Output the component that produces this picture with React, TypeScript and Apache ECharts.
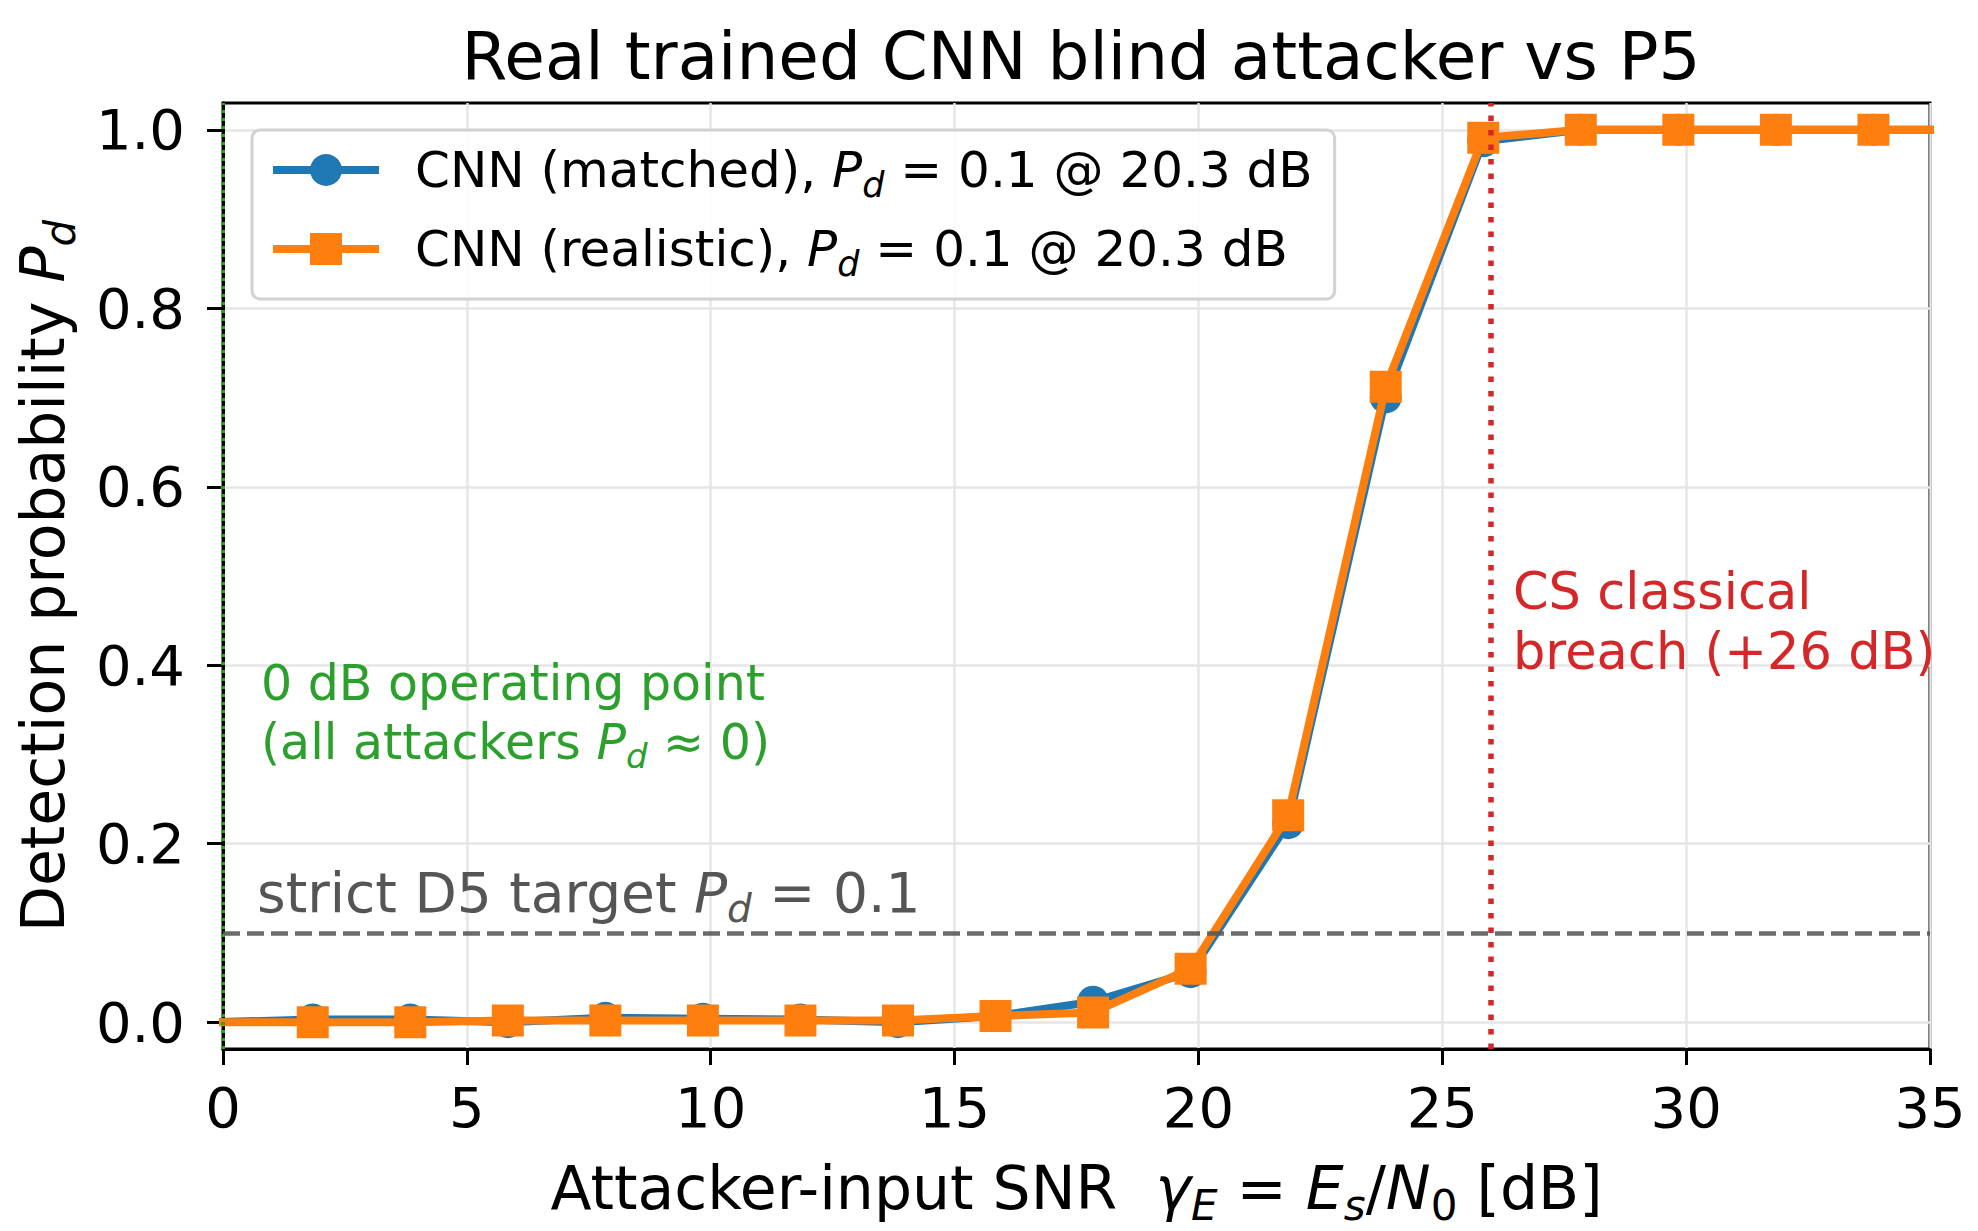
import React, { useEffect, useRef } from "react";
import * as echarts from "echarts";

const F = "DejaVu Sans";

// SNR sample points (dB)
const snr = [-0.16, 1.84, 3.84, 5.84, 7.84, 9.84, 11.84, 13.84, 15.84, 17.84, 19.84, 21.84, 23.84, 25.84, 27.84, 29.84, 31.84, 33.84, 35.84];
const pdMatched = [0.0, 0.003, 0.003, 0.0, 0.005, 0.004, 0.003, 0.0, 0.007, 0.023, 0.056, 0.223, 0.7, 0.987, 1.0, 1.0, 1.0, 1.0, 1.0];
const pdRealistic = [0.0, 0.0, 0.0, 0.002, 0.002, 0.002, 0.002, 0.002, 0.007, 0.011, 0.06, 0.232, 0.712, 0.991, 1.0, 1.0, 1.0, 1.0, 1.0];

const yTicks = [0, 0.2, 0.4, 0.6, 0.8, 1.0];
const targetPd = 0.1;
const breachSnr = 26;
const operatingSnr = 0;

const nameMatched = "CNN (matched)";
const nameRealistic = "CNN (realistic)";

function richSet(fs: number, color: string) {
  const sub = Math.round(fs * 0.7);
  const p = Math.round(fs * 0.58);
  return {
    n: { fontSize: fs, fontFamily: F, color, fill: color },
    i: { fontSize: fs, fontFamily: F, color, fill: color, fontStyle: "italic" },
    s: { fontSize: sub, fontFamily: F, color, fill: color, fontStyle: "italic", padding: [p, 0, 0, 0] },
    z: { fontSize: sub, fontFamily: F, color, fill: color, padding: [p, 0, 0, 0] },
  };
}

export default function App() {
  const ref = useRef<HTMLDivElement>(null);
  useEffect(() => {
    document.body.style.margin = "0";
    if (!ref.current) return;
    const chart = echarts.init(ref.current, null, { renderer: "svg" });

    const legendFs = 50;
    const legendRich: any = richSet(legendFs, "#000");
    legendRich.g = { fontSize: legendFs, fontFamily: F, color: "#000", padding: [0, 0, 0, 31] };

    const labelFs = 60;
    const greenFs = 49;
    const redFs = 51;
    const grayFs = 55;
    const C = 0.3;

    const option: any = {
      animation: false,
      backgroundColor: "#ffffff",
      title: {
        text: "Real trained CNN blind attacker vs P5",
        left: 1076,
        top: 18,
        textAlign: "center",
        textStyle: { fontSize: 66, fontWeight: "normal", fontFamily: F, color: "#000" },
      },
      grid: {
        left: 223,
        right: 48,
        top: 103,
        bottom: 178,
        show: true,
        borderColor: "#000",
        borderWidth: 3,
        backgroundColor: "transparent",
      },
      legend: {
        data: [nameMatched, nameRealistic],
        orient: "vertical",
        left: 252,
        top: 130,
        itemWidth: 106,
        itemHeight: 40,
        itemGap: 22,
        padding: [15, 22, 18, 17],
        backgroundColor: "rgba(255,255,255,0.85)",
        borderColor: "#d2d2d2",
        borderWidth: 3,
        borderRadius: 8,
        selectedMode: false,
        lineStyle: { width: 8 },
        formatter: (name: string) =>
          `{g|${name}, }{i|P}{s|d}{n| = 0.1 @ 20.3 dB}`,
        textStyle: { fontSize: legendFs, fontFamily: F, color: "#000", rich: legendRich },
      },
      xAxis: {
        type: "value",
        min: 0,
        max: 35,
        interval: 5,
        name: "{n|Attacker-input SNR  }{i|γ}{s|E}{n| = }{i|E}{s|s}{n|/}{i|N}{z|0}{n| [dB]}",
        nameLocation: "middle",
        nameGap: 100,
        nameTextStyle: { fontSize: labelFs, fontFamily: F, color: "#000", rich: richSet(labelFs, "#000") },
        axisLine: { show: true, onZero: false, lineStyle: { color: "#000", width: 3 } },
        axisTick: { show: true, length: 16, lineStyle: { color: "#000", width: 3 } },
        axisLabel: { fontSize: 56, fontFamily: F, color: "#000", margin: 30 },
        splitLine: { show: true, lineStyle: { color: "#e6e6e6", width: 2.5 } },
      },
      yAxis: {
        type: "value",
        min: -0.03,
        max: 1.03,
        name: "{n|Detection probability }{i|P}{s|d}",
        nameLocation: "middle",
        nameRotate: 90,
        nameGap: 142,
        nameTextStyle: { fontSize: labelFs, fontFamily: F, color: "#000", rich: richSet(labelFs, "#000") },
        axisLine: { show: true, onZero: false, lineStyle: { color: "#000", width: 3 } },
        axisTick: { show: true, length: 16, customValues: yTicks, lineStyle: { color: "#000", width: 3 } },
        axisLabel: {
          fontSize: 56,
          fontFamily: F,
          color: "#000",
          margin: 38,
          customValues: yTicks,
          formatter: (v: number) => v.toFixed(1),
        },
        splitLine: { show: true, lineStyle: { color: "#e6e6e6", width: 2.5 } },
      },
      series: [
        {
          name: "refs-low",
          type: "line",
          data: [],
          z: 1,
          silent: true,
          markLine: {
            silent: true,
            symbol: ["none", "none"],
            label: { show: false },
            data: [
              { yAxis: targetPd, lineStyle: { color: "#5a5a5a", width: 4.5, type: [17, 7], opacity: 0.9 } },
              { xAxis: operatingSnr, lineStyle: { color: "#2ca02c", width: 4, type: [3, 5], opacity: 1 } },
            ],
          },
        },
        {
          name: nameMatched,
          type: "line",
          data: snr.map((x, i) => [x, pdMatched[i]]),
          symbol: "circle",
          symbolSize: 32,
          showSymbol: true,
          z: 2,
          lineStyle: { color: "#1f77b4", width: 8 },
          itemStyle: { color: "#1f77b4" },
        },
        {
          name: nameRealistic,
          type: "line",
          data: snr.map((x, i) => [x, pdRealistic[i]]),
          symbol: "rect",
          symbolSize: 32,
          showSymbol: true,
          z: 3,
          lineStyle: { color: "#ff7f0e", width: 8 },
          itemStyle: { color: "#ff7f0e" },
        },
        {
          name: "refs-high",
          type: "line",
          data: [],
          z: 5,
          silent: true,
          markLine: {
            silent: true,
            symbol: ["none", "none"],
            label: { show: false },
            data: [
              { xAxis: breachSnr, lineStyle: { color: "#d62728", width: 5.5, type: [5.5, 9], opacity: 1 } },
            ],
          },
        },
      ],
      graphic: [
        {
          type: "text",
          x: 261,
          y: 698 - C * greenFs,
          z: 10,
          style: { text: "{n|0 dB operating point}", rich: richSet(greenFs, "#2ca02c"), fill: "#2ca02c", align: "left", verticalAlign: "middle" },
        },
        {
          type: "text",
          x: 261,
          y: 757 - C * greenFs,
          z: 10,
          style: {
            text: "{n|(all attackers }{i|P}{s|d}{n| ≈ 0)}",
            rich: richSet(greenFs, "#2ca02c"),
            fill: "#2ca02c",
            align: "left",
            verticalAlign: "middle",
          },
        },
        {
          type: "text",
          x: 257,
          y: 909 - C * grayFs,
          z: 10,
          style: {
            text: "{n|strict D5 target }{i|P}{s|d}{n| = 0.1}",
            rich: richSet(grayFs, "#555555"),
            fill: "#555555",
            align: "left",
            verticalAlign: "middle",
          },
        },
        {
          type: "text",
          x: 1513,
          y: 607 - C * redFs,
          z: 10,
          style: { text: "{n|CS classical}", rich: richSet(redFs, "#d62728"), fill: "#d62728", align: "left", verticalAlign: "middle" },
        },
        {
          type: "text",
          x: 1513,
          y: 667 - C * redFs,
          z: 10,
          style: { text: "{n|breach (+26 dB)}", rich: richSet(redFs, "#d62728"), fill: "#d62728", align: "left", verticalAlign: "middle" },
        },
      ],
    };

    chart.setOption(option);
    return () => chart.dispose();
  }, []);

  return <div ref={ref} style={{ width: 1978, height: 1231 }} />;
}
